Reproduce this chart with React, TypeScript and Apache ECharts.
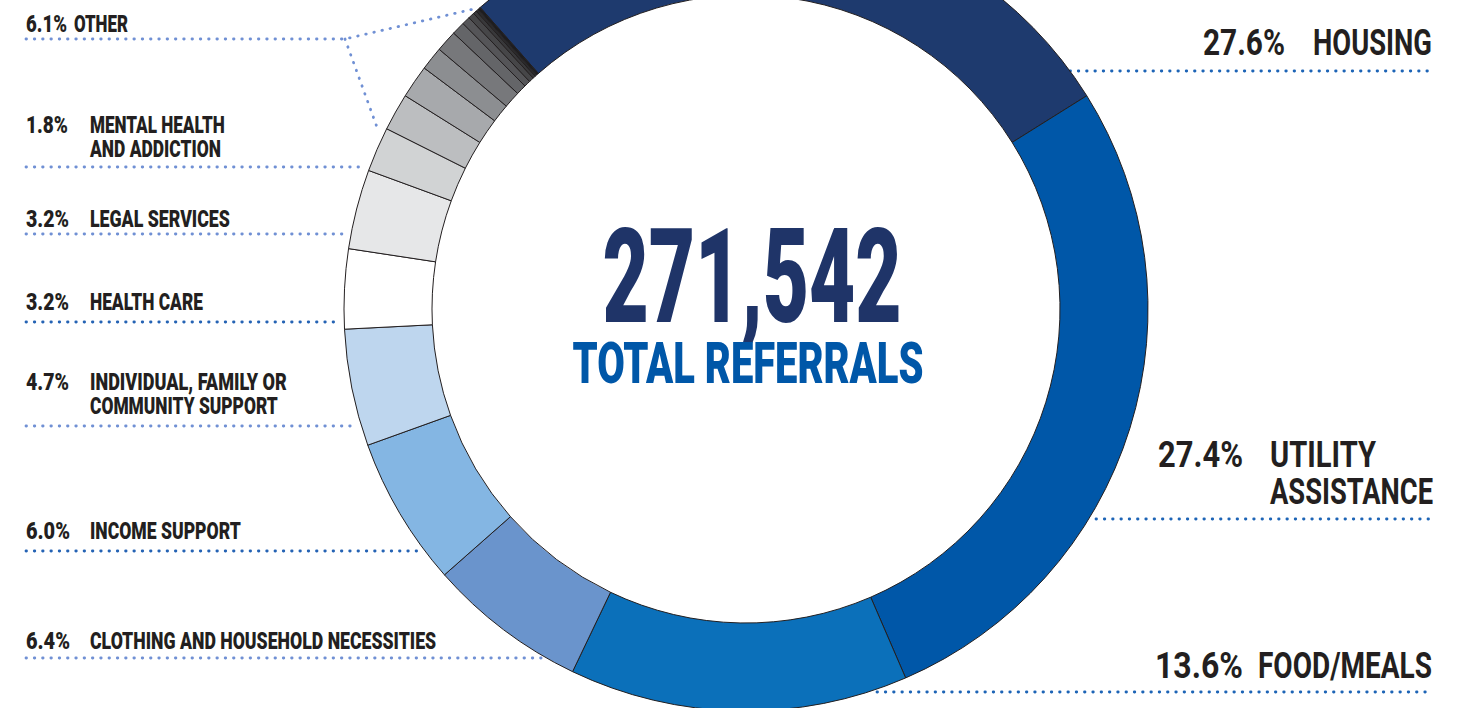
import React, { useEffect, useRef } from 'react';
import * as echarts from 'echarts';

// ---- data ----
const categories: string[][] = [
  ['HOUSING'],
  ['UTILITY', 'ASSISTANCE'],
  ['FOOD/MEALS'],
  ['CLOTHING AND HOUSEHOLD NECESSITIES'],
  ['INCOME SUPPORT'],
  ['INDIVIDUAL, FAMILY OR', 'COMMUNITY SUPPORT'],
  ['HEALTH CARE'],
  ['LEGAL SERVICES'],
  ['MENTAL HEALTH', 'AND ADDICTION'],
];
const shares = [27.6, 27.4, 13.6, 6.4, 6.0, 4.7, 3.2, 3.2, 1.8];
const otherName = 'OTHER';
const otherShare = 6.1;
const otherBreakdown = [1.5, 1.33, 0.95, 0.86, 0.53, 0.33, 0.25, 0.14, 0.11, 0.1];
const totalReferrals = 271542;
const totalLabel = 'TOTAL REFERRALS';

// ---- styles ----
const sliceColors = ['#1e3a6e', '#0057a8', '#0b70ba', '#6a94cc', '#84b6e3', '#bed6ee', '#ffffff', '#e6e7e8', '#d1d3d4'];
const otherColors = ['#bcbec0', '#a7a9ac', '#8c8e91', '#77787b', '#646568', '#555558', '#464648', '#38383a', '#2a2a2c', '#1d1d1f'];
const FONT = 'Roboto';
const INK = '#231f20';
const DOT_DARK = '#2563b4';
const DOT_LIGHT = '#7090d4';
const DOT_RIGHT = '#1d64b6';

let measureCtx: CanvasRenderingContext2D | null = null;
function measure(str: string, size: number, weight: string | number) {
  if (!measureCtx) measureCtx = document.createElement('canvas').getContext('2d');
  measureCtx!.font = `${weight} ${size}px ${FONT}`;
  return measureCtx!.measureText(str).width;
}

function txt(str: string, x: number, baseline: number, size: number, width: number, color: string, align = 'left', weight: string | number = 900) {
  const sx = width / measure(str, size, weight);
  return {
    type: 'text', x, y: baseline - 0.342 * size, scaleX: sx, silent: true,
    style: { text: str, x: 0, y: 0, fontFamily: FONT, fontWeight: weight, fontSize: size, fill: color,
      textAlign: align, textVerticalAlign: 'middle', align, verticalAlign: 'middle' },
  };
}

function dots(points: number[][], color: string) {
  return {
    type: 'polyline', silent: true,
    shape: { points },
    style: { fill: 'none', stroke: color, lineWidth: 2.8, lineDash: [0.5, 7.8], lineCap: 'round' },
  };
}

const pct = (v: number) => `${v.toFixed(1)}%`;

// label layout (annotation positions only)
const leftLayout: Record<number, any> = {
  8: { baselines: [133, 157], widths: [135, 131], pctW: 42, lineY: 167, lineEnd: 363, color: DOT_LIGHT },
  7: { baselines: [227], widths: [140], pctW: 43, lineY: 234, lineEnd: 348, color: DOT_LIGHT },
  6: { baselines: [310], widths: [113], pctW: 43, lineY: 322, lineEnd: 337, color: DOT_DARK },
  5: { baselines: [390, 414], widths: [197, 188], pctW: 43, lineY: 426, lineEnd: 353, color: DOT_LIGHT },
  4: { baselines: [539], widths: [151], pctW: 44, lineY: 551, lineEnd: 420, color: DOT_DARK },
  3: { baselines: [649], widths: [346], pctW: 44, lineY: 658, lineEnd: 543, color: DOT_LIGHT },
};
const rightLayout: Record<number, any> = {
  0: { pctX: 1203, pctW: 82, nameX: 1313, baselines: [55], widths: [119], lineY: 71, lineStart: 1070 },
  1: { pctX: 1158, pctW: 85, nameX: 1270, baselines: [467, 504], widths: [106, 163], lineY: 519, lineStart: 1096 },
  2: { pctX: 1155, pctW: 88, nameX: 1258, baselines: [678], widths: [174], lineY: 692, lineStart: 877 },
};

export default function App() {
  const ref = useRef<HTMLDivElement>(null);
  useEffect(() => {
    const chart = echarts.init(ref.current!, null, { renderer: 'svg' });

    const data: any[] = categories.map((c, i) => ({
      name: c.join(' '), value: shares[i], itemStyle: { color: sliceColors[i] },
    }));
    otherBreakdown.forEach((v, i) => data.push({ name: `${otherName} ${i + 1}`, value: v, itemStyle: { color: otherColors[i] } }));

    const elements: any[] = [];
    // left labels
    Object.keys(leftLayout).forEach((k) => {
      const i = Number(k);
      const L = leftLayout[i];
      elements.push(txt(pct(shares[i]), 26, L.baselines[0], 24, L.pctW, INK));
      categories[i].forEach((line, j) => elements.push(txt(line, 90, L.baselines[j], 24, L.widths[j], INK)));
      elements.push(dots([[26, L.lineY], [L.lineEnd, L.lineY]], L.color));
    });
    // other
    elements.push(txt(pct(otherShare), 26, 32, 24, 41, INK));
    elements.push(txt(otherName, 74, 32, 24, 54, INK));
    elements.push(dots([[26, 39], [345, 39], [478, 8]], DOT_LIGHT));
    elements.push(dots([[345, 39], [378, 130]], DOT_LIGHT));
    // right labels
    Object.keys(rightLayout).forEach((k) => {
      const i = Number(k);
      const R = rightLayout[i];
      elements.push(txt(pct(shares[i]), R.pctX, R.baselines[0], 37, R.pctW, INK, 'left', 'bold'));
      categories[i].forEach((line, j) => elements.push(txt(line, R.nameX, R.baselines[j], 37, R.widths[j], INK, 'left', 'bold')));
      elements.push(dots([[R.lineStart, R.lineY], [1433, R.lineY]], DOT_RIGHT));
    });
    // center
    elements.push(txt(totalReferrals.toLocaleString('en-US'), 752, 322, 132, 299, '#1f3468', 'center', 900));
    elements.push(txt(totalLabel, 748, 383, 58, 351, '#0057a8', 'center', 900));

    chart.setOption({
      animation: false,
      backgroundColor: '#ffffff',
      series: [{
        type: 'pie',
        center: [746, 309],
        radius: [314, 402],
        startAngle: 131.4,
        clockwise: true,
        silent: true,
        label: { show: false },
        labelLine: { show: false },
        itemStyle: { borderColor: INK, borderWidth: 1 },
        emphasis: { disabled: true },
        data,
      }],
      graphic: { elements },
    });
    return () => chart.dispose();
  }, []);
  return <div ref={ref} style={{ position: 'fixed', left: 0, top: 0, width: 1473, height: 708, background: '#fff' }} />;
}
